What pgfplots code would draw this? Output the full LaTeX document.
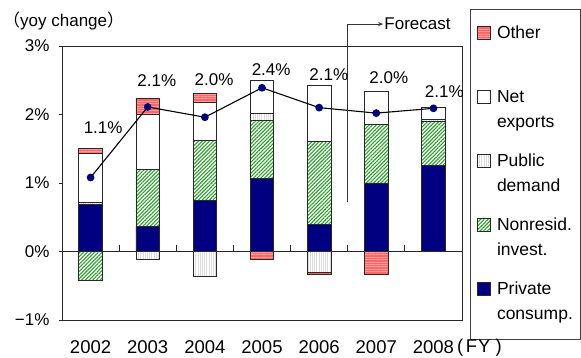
\documentclass[border=0pt]{standalone}
\usepackage{fontspec}
\setmainfont{Liberation Sans}
\newfontfamily\cjk{Noto Sans CJK JP}
\usepackage{pgfplots}
\pgfplotsset{compat=1.18}
\usepackage{pgfplotstable}
\usetikzlibrary{patterns.meta, arrows.meta}

\definecolor{navy}{RGB}{0,0,128}
\definecolor{salmon}{RGB}{255,102,102}
\definecolor{salmonline}{RGB}{255,155,155}
\definecolor{hatchgreen}{RGB}{40,160,40}
\definecolor{edge}{RGB}{40,40,40}

\newcommand\fs{\fontsize{17}{20}\selectfont}
\newcommand\xfs{\fontsize{18.5}{22}\selectfont}
\newcommand\lfs{\fontsize{17.5}{25}\selectfont}

% contributions to real GDP growth, positive parts (percentage points)
\pgfplotstableread{
x private nonresid public netexp other
0 0.69  0.00  0.03 0.72  0.06
1 0.37  0.83  0.00 0.80  0.24
2 0.74  0.885 0.00 0.545 0.14
3 1.064 0.849 0.10 0.49  0.00
4 0.40  1.21  0.00 0.81  0.00
5 1.00  0.855 0.00 0.485 0.00
6 1.26  0.635 0.04 0.165 0.00
}\tabpos

% negative parts
\pgfplotstableread{
x nonresid public other
0 -0.42  0.00   0.00
1  0.00 -0.12   0.00
2  0.00 -0.356  0.00
3  0.00  0.00  -0.11
4  0.00 -0.30  -0.03
5  0.00  0.00  -0.33
6  0.00  0.00   0.00
}\tabneg

% real GDP growth (yoy, %) and where its value labels sit
\pgfplotstableread{
x total lx   ly
0 1.08  0.22 1.81
1 2.11  1.16 2.50
2 1.96  2.16 2.51
3 2.39  3.16 2.65
4 2.10  4.17 2.58
5 2.02  5.22 2.54
6 2.09  6.19 2.33
}\tabtotal

\pgfplotsset{
  /pgf/number format/assume math mode=true,
  frame/.style={
    scale only axis, width=400pt, height=274pt,
    at={(62pt,38pt)}, anchor=south west,
    xmin=-0.5, xmax=6.5, ymin=-1, ymax=3, clip=false,
  },
  sq/.style={legend image code/.code={
      \draw[##1, draw=edge, line width=0.7pt] (0pt,6.5pt) rectangle (13pt,19.5pt);}},
  pc/.style={fill=navy, draw=edge, line width=0.7pt, sq},
  nr/.style={draw=edge, line width=0.7pt,
    pattern={Lines[angle=45, distance=2.6pt, line width=1.1pt]}, pattern color=hatchgreen, sq},
  pd/.style={draw=edge, line width=0.7pt,
    pattern={Lines[angle=90, distance=2.2pt, line width=0.8pt]}, pattern color=black!14, sq},
  ne/.style={fill=white, draw=edge, line width=0.7pt, sq},
  ot/.style={fill=salmon, draw=edge, line width=0.7pt,
    postaction={pattern={Lines[angle=0, distance=2.4pt, line width=0.7pt]}, pattern color=salmonline}, sq},
}

\begin{document}
\begin{tikzpicture}
\useasboundingbox (0,0) rectangle (581pt,358pt);

% frame, ticks, legend and the positive contributions
\begin{axis}[frame,
  ybar stacked, bar width=23.5pt,
  axis line style={black!85, line width=0.8pt},
  ytick={-1,0,1,2,3}, yticklabels={−1\%,0\%,1\%,2\%,3\%},
  xtick={0,...,6}, xticklabels={2002,2003,2004,2005,2006,2007,2008},
  xtick style={draw=none}, ytick pos=left,
  tick align=outside, major tick length=3pt,
  ytick style={black!85, line width=0.8pt},
  tick label style={font=\fs, text=black},
  xticklabel style={font=\xfs, yshift=-14pt},
  yticklabel style={xshift=-6pt},
  reverse legend, legend cell align=left,
  legend style={at={(axis description cs:1.02,1.135)}, anchor=north west,
    draw=black!75, line width=0.6pt, inner xsep=7pt, inner ysep=12pt,
    /tikz/row sep=14pt, /tikz/column sep=6pt,
    nodes={inner sep=0pt, text depth=, text height=, align=left,
      text width=76pt, font=\lfs}},
]
\addplot[pc] table[x=x, y=private]  {\tabpos};
\addlegendentry{\strut Private\\\strut consump.}
\addplot[nr] table[x=x, y=nonresid] {\tabpos};
\addlegendentry{\strut Nonresid.\\\strut invest.}
\addplot[pd] table[x=x, y=public]   {\tabpos};
\addlegendentry{\strut Public\\\strut demand}
\addplot[ne] table[x=x, y=netexp]   {\tabpos};
\addlegendentry{\strut Net\\\strut exports}
\addplot[ot] table[x=x, y=other]    {\tabpos};
\addlegendentry{\strut Other\\\strut}
\end{axis}

% negative contributions, stacked downward from zero
\begin{axis}[frame, hide axis, ybar stacked, bar width=23.5pt]
\addplot[nr] table[x=x, y=nonresid] {\tabneg};
\addplot[pd] table[x=x, y=public]   {\tabneg};
\addplot[ot] table[x=x, y=other]    {\tabneg};
\draw[black!85, line width=0.8pt] (axis cs:-0.5,0) -- (axis cs:6.5,0);
\pgfplotsinvokeforeach{0.5,1.5,2.5,3.5,4.5,5.5}{
  \draw[black!85, line width=0.8pt] (axis cs:#1,0) -- (axis cs:#1,0.09);}
\end{axis}

% growth rate line, its labels and the forecast marker
\begin{axis}[frame, hide axis]
\addplot[black, line width=1.1pt, mark=*, mark size=3.3pt,
  mark options={fill=navy, draw=navy}] table[x=x, y=total] {\tabtotal};
\addplot[draw=none, mark=none, point meta=explicit,
  nodes near coords={\pgfmathprintnumber[fixed, fixed zerofill, precision=1]{\pgfplotspointmeta}\%},
  every node near coord/.style={anchor=center, font=\fs, text=black, inner sep=0pt}]
  table[x=lx, y=ly, meta=total] {\tabtotal};
\draw[black!80, line width=0.7pt, -{Stealth[length=5pt, width=4pt]}]
  (axis cs:4.5,0.72) -- (axis cs:4.5,3.32) -- (axis cs:5.12,3.32)
  node[anchor=west, font=\fs, text=black, inner sep=1pt] {Forecast};
\end{axis}

\node[anchor=base west, font=\fs, inner sep=0pt] at (3pt,331pt)
  {{\cjk （}yoy change{\cjk ）}};
\node[anchor=base west, font=\xfs, inner sep=0pt] at (457pt,5pt)
  {(\hspace{2.5pt}F\hspace{1pt}Y\hspace{5pt})};
\end{tikzpicture}
\end{document}
